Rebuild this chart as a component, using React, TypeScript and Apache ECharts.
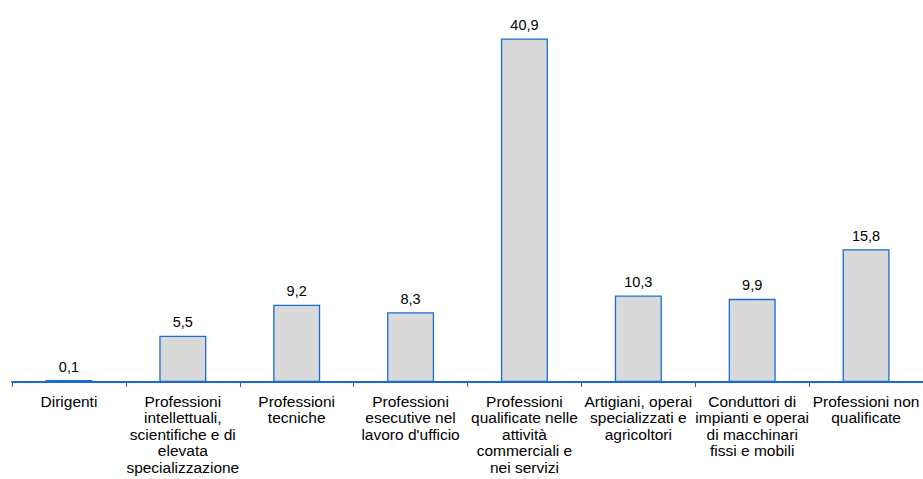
import React, { useEffect, useRef } from "react";
import * as echarts from "echarts";

const categories = [
  "Dirigenti",
  "Professioni\nintellettuali,\nscientifiche e di\nelevata\nspecializzazione",
  "Professioni\ntecniche",
  "Professioni\nesecutive nel\nlavoro d'ufficio",
  "Professioni\nqualificate nelle\nattività\ncommerciali e\nnei servizi",
  "Artigiani, operai\nspecializzati e\nagricoltori",
  "Conduttori di\nimpianti e operai\ndi macchinari\nfissi e mobili",
  "Professioni non\nqualificate",
];

const values = [0.1, 5.5, 9.2, 8.3, 40.9, 10.3, 9.9, 15.8];

const BLUE = "#166cd4";
const FONT = "'Liberation Sans', Arial, sans-serif";

export default function App() {
  const ref = useRef<HTMLDivElement>(null);
  useEffect(() => {
    if (!ref.current) return;
    const chart = echarts.init(ref.current, undefined, { renderer: "svg" });
    chart.setOption({
      animation: false,
      backgroundColor: "#ffffff",
      grid: { left: 12, right: -2.6, top: 4, bottom: 97, containLabel: false },
      xAxis: {
        type: "category",
        data: categories,
        boundaryGap: true,
        z: 0,
        axisLine: { show: true, lineStyle: { color: BLUE, width: 2 } },
        axisTick: { show: true, length: 5, lineStyle: { color: BLUE, width: 1 } },
        axisLabel: {
          interval: 0,
          margin: 11,
          color: "#000000",
          fontFamily: FONT,
          fontSize: 15.5,
          lineHeight: 16.5,
          align: "center",
        },
      },
      yAxis: {
        type: "value",
        min: 0,
        max: 45,
        show: false,
        splitLine: { show: false },
      },
      series: [
        {
          type: "bar",
          data: values,
          barWidth: 47,
          barMinHeight: 2,
          z: 3,
          itemStyle: { color: "#d9d9d9", borderColor: BLUE, borderWidth: 1.3 },
          label: {
            show: true,
            position: "top",
            distance: 6,
            color: "#000000",
            fontFamily: FONT,
            fontSize: 14.5,
            formatter: (p: any) => Number(p.value).toFixed(1).replace(".", ","),
          },
        },
      ],
    });
    return () => chart.dispose();
  }, []);
  return (
    <div
      ref={ref}
      style={{ position: "fixed", left: 0, top: 0, width: 923, height: 479, background: "#fff" }}
    />
  );
}
